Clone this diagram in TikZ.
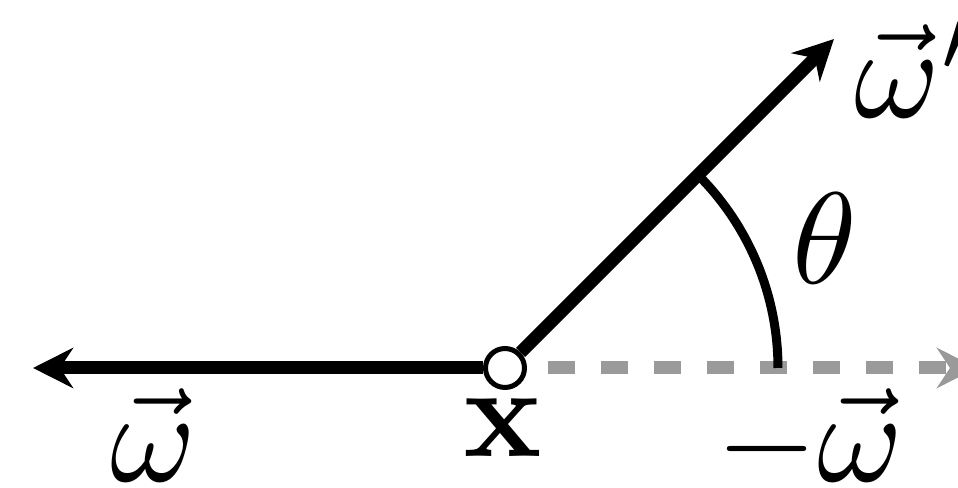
\documentclass[tikz,border=0pt]{standalone}
\usetikzlibrary{arrows.meta}
\definecolor{dashgray}{HTML}{9A9A9A}
\tikzset{
  vecline/.style={line width=1.3pt, -{Stealth[length=4pt,width=4pt,inset=1.3pt]}},
  dashvec/.style={dashgray, line width=1.3pt, dash pattern=on 2.7pt off 2.6pt, dash phase=3.2pt,
    -{Stealth[length=4pt,width=4pt,inset=1.3pt]}},
  anglearc/.style={line width=0.9pt},
  pointnode/.style={circle, draw, fill=white, line width=0.5pt, minimum size=3.9pt, inner sep=0pt},
  lbl/.style={inner sep=0pt, scale=1.3, transform shape}
}
\begin{document}
\begin{tikzpicture}[x=0.1pt, y=-0.1pt]
\clip (0,0) rectangle (958,488);
\node[pointnode] (X) at (505,368) {};
\coordinate (L) at (33,368);
\coordinate (R) at (977,368);
\coordinate (U) at (834,39);
\draw[dashvec] (X) -- (R);
\draw[vecline] (X) -- (L);
\draw[vecline] (X) -- (U);
\draw[anglearc] (X.center) ++(273,0) arc[start angle=0, end angle=-45, radius=273];
\node[lbl, anchor=base west] (wp) at (852,118) {$\vec{\omega}'$};
\node[lbl, anchor=base west] (wl) at (108,482) {$\vec{\omega}$};
\node[lbl, anchor=base] (xl) at (503,457) {$\mathbf{x}$};
\node[lbl, anchor=base west] (wm) at (714,482) {$-\vec{\omega}$};
\node[lbl, anchor=base west] (th) at (790,284) {$\theta$};
\end{tikzpicture}
\end{document}
